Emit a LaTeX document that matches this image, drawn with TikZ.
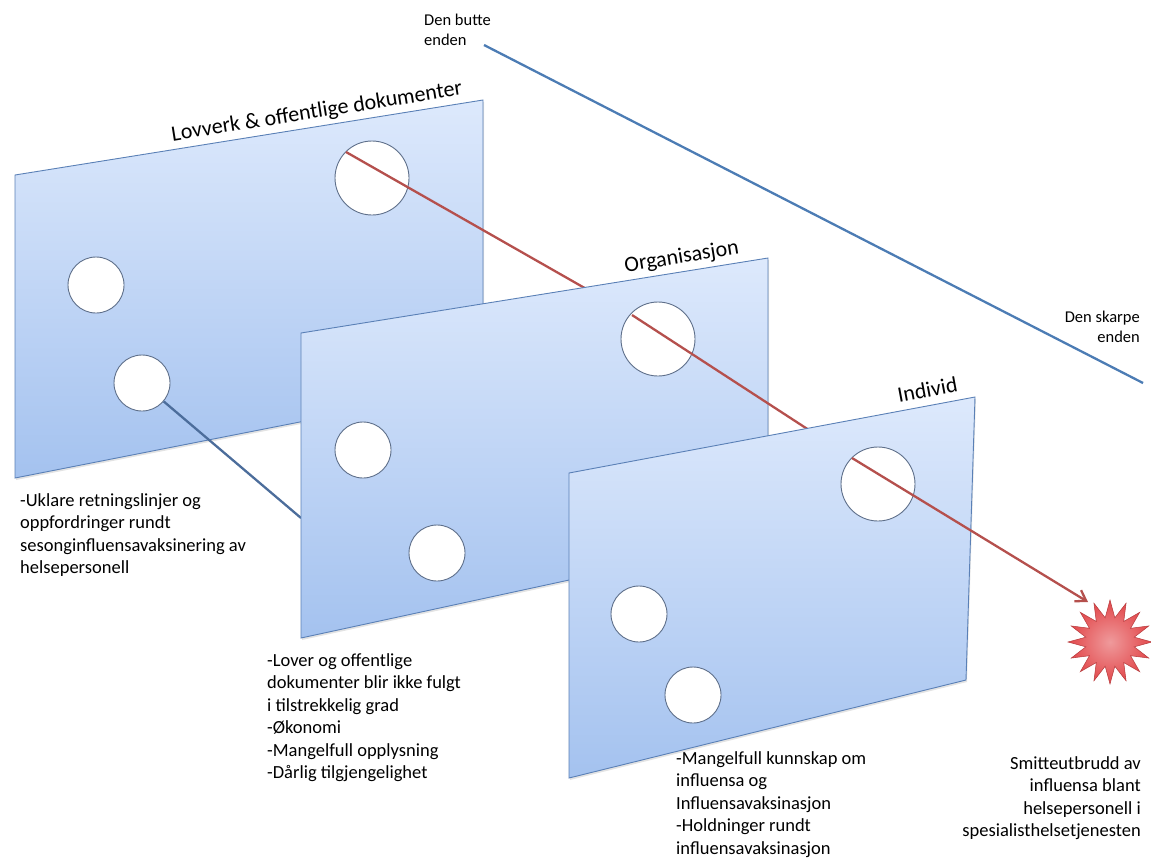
\documentclass[tikz,border=0pt]{standalone}
\usepackage{fontspec}
\setmainfont{Carlito}
\usetikzlibrary{arrows.meta,positioning,shapes.geometric,shadows}
\definecolor{plane}{HTML}{DDE9FC}
\definecolor{planedeep}{HTML}{A4C2EF}
\definecolor{planeedge}{HTML}{5A80B6}
\definecolor{holeedge}{HTML}{5E6F8A}
\definecolor{trajectory}{HTML}{B5504D}
\definecolor{scaleline}{HTML}{4C7CB4}
\definecolor{burst}{HTML}{E2474A}

\begin{document}
\begin{tikzpicture}[x=1pt,y=-1pt,font=\fontsize{18.5}{22.5}\selectfont,
  plane/.style={draw=planeedge,line width=.9pt,top color=plane,bottom color=planedeep,drop shadow={opacity=.22,shadow xshift=1pt,shadow yshift=-2pt}},
  hole/.style={circle,draw=holeedge,line width=.9pt,fill=white,minimum size=#1,inner sep=0pt},
  level/.style={font=\fontsize{22}{26}\selectfont,sloped,above,pos=#1,inner sep=4.5pt},
  note/.style={align=left,anchor=north west,inner sep=0pt},
  endlabel/.style={font=\fontsize{16.5}{20}\selectfont,inner sep=0pt},
  link/.style={draw=#1,line width=2.3pt}]
  \useasboundingbox (0,0) rectangle (1151,860);
  \coordinate (pierce1) at (346,152);
  \coordinate (pierce2) at (632,315);
  \coordinate (pierce3) at (852,458);
  \coordinate (tip) at (1088,602);
  \coordinate (orgjoin) at (301,518);
  \coordinate (buttend) at (484,45);
  \coordinate (skarpend) at (1143,383);

  \node[endlabel,align=left,anchor=north west] (butt) at (424,14) {Den butte\\enden};
  \node[endlabel,align=right,anchor=north east] (skarp) at (1140,311) {Den skarpe\\enden};
  \draw[link=scaleline] (buttend) -- (skarpend);

  \path[plane] (15,175) coordinate (lovtl) -- (483,100) coordinate (lovtr) -- (483,386) -- (15,478) -- cycle;
  \node[hole=74pt] (lovbig) at (372,178) {};
  \node[hole=56pt] (lova) at (96,285) {};
  \node[hole=56pt] (lovb) at (142,383) {};
  \path (lovtl) -- (lovtr) node[level=.65] (lovlabel) {Lovverk \& offentlige dokumenter};
  \draw[link=planeedge!85!black] (lovb) -- (orgjoin);
  \draw[link=trajectory] (pierce1) -- (pierce2);

  \path[plane] (301,333) coordinate (orgtl) -- (768,258) coordinate (orgtr) -- (768,537) -- (301,638) -- cycle;
  \node[hole=74pt] (orgbig) at (658,339) {};
  \node[hole=56pt] (orga) at (363,450) {};
  \node[hole=56pt] (orgb) at (437,553) {};
  \path (orgtl) -- (orgtr) node[level=.82] (orglabel) {Organisasjon};
  \draw[link=trajectory] (pierce2) -- (pierce3);

  \path[plane] (569,473) coordinate (indtl) -- (975,397) coordinate (indtr) -- (966,680) -- (569,778) -- cycle;
  \node[hole=74pt] (indbig) at (878,484) {};
  \node[hole=56pt] (inda) at (639,614) {};
  \node[hole=56pt] (indb) at (693,695) {};
  \path (indtl) -- (indtr) node[level=.89,inner sep=8pt] (indlabel) {Individ};

  \node[star,star points=16,star point ratio=1.7,minimum size=84pt,inner sep=0pt,draw=burst!80!black,line width=.5pt,inner color=burst!55!white,outer color=burst] (utbrudd) at (1110,642) {};
  \draw[link=trajectory,-{Straight Barb[length=10pt,width=13pt]}] (pierce3) -- (tip);

  \node[note] (lovnote) at (20,493) {-Uklare retningslinjer og\\oppfordringer rundt\\sesonginfluensavaksinering av\\helsepersonell};
  \node[note] (orgnote) at (267,653) {-Lover og offentlige\\dokumenter blir ikke fulgt\\i tilstrekkelig grad\\-Økonomi\\-Mangelfull opplysning\\-Dårlig tilgjengelighet};
  \node[note] (indnote) at (676,751) {-Mangelfull kunnskap om\\influensa og\\Influensavaksinasjon\\-Holdninger rundt\\influensavaksinasjon};
  \node[note,align=right,anchor=north east] (utbruddnote) at (1141,756) {Smitteutbrudd av\\influensa blant\\helsepersonell i\\spesialisthelsetjenesten};
\end{tikzpicture}
\end{document}
